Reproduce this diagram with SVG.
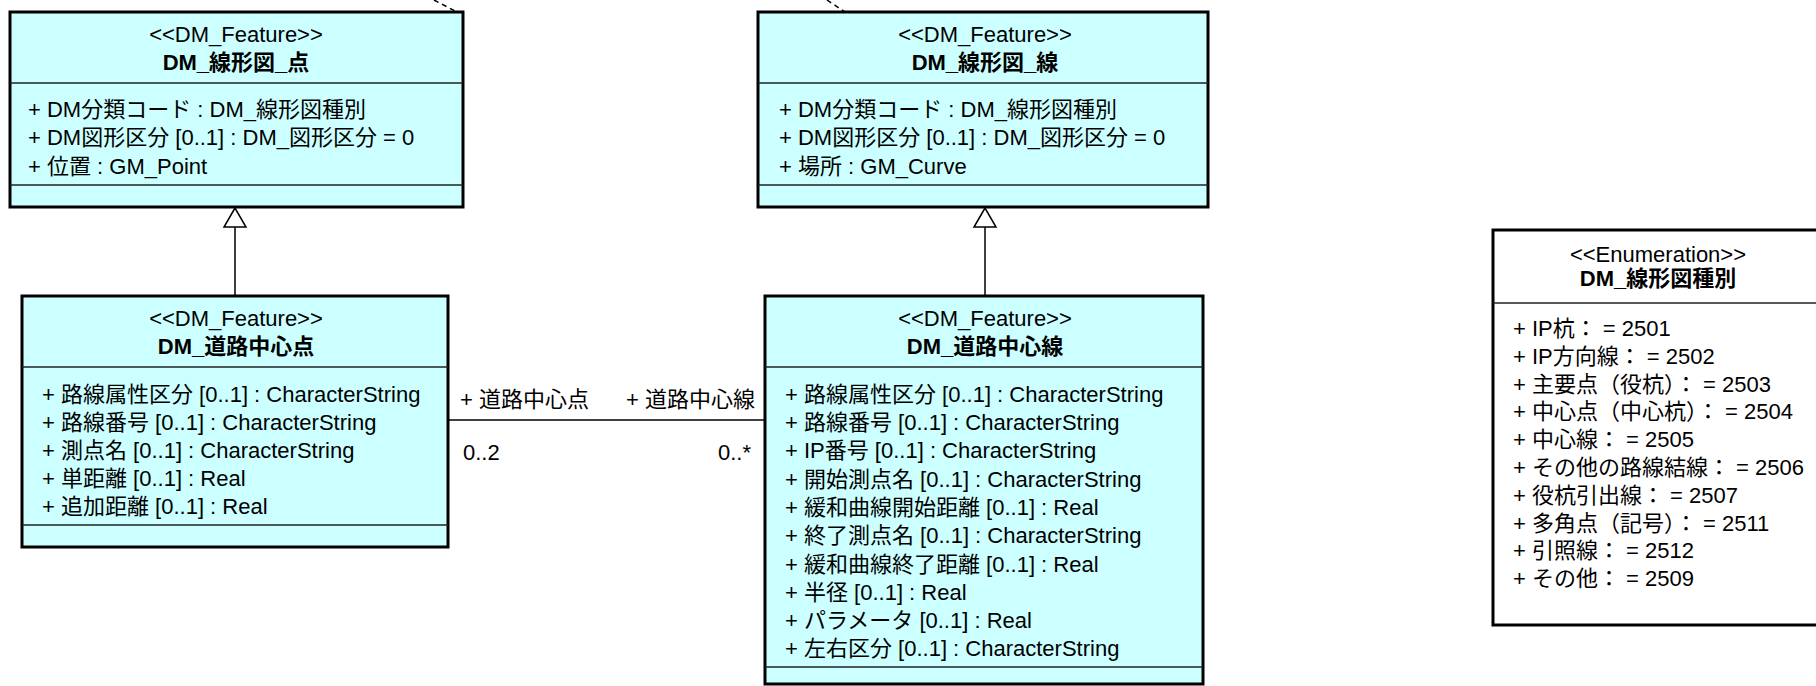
<svg xmlns="http://www.w3.org/2000/svg" width="1816" height="686" viewBox="0 0 1816 686">
<style>
.box{fill:#CCFFFF;stroke:#000;stroke-width:3}
.ebox{fill:#FFFFFF;stroke:#000;stroke-width:3}
.dv{stroke:#222;stroke-width:1.5}
text{font-family:"Liberation Sans","Noto Sans CJK JP",sans-serif;font-size:22px;fill:#000}
.c{text-anchor:middle}
.b{font-weight:bold}
.ln{stroke:#000;stroke-width:1.5;fill:none}
.dash{stroke:#000;stroke-width:1.5;stroke-dasharray:5,4;fill:none}
.tri{fill:#fff;stroke:#000;stroke-width:1.5}
</style>
<rect width="1816" height="686" fill="#fff"/>
<g id="connectors">
<line class="dash" x1="434" y1="0" x2="457" y2="12"/>
<line class="dash" x1="827" y1="0" x2="845" y2="12"/>
<line class="ln" x1="235" y1="227" x2="235" y2="296"/>
<polygon class="tri" points="235,208 224,227 246,227"/>
<line class="ln" x1="985" y1="227" x2="985" y2="296"/>
<polygon class="tri" points="985,208 974,227 996,227"/>
<line class="ln" x1="448" y1="420" x2="765" y2="420"/>
<text x="460" y="407">+  道路中心点</text>
<text x="626" y="407">+  道路中心線</text>
<text x="463" y="460">0..2</text>
<text x="718" y="460">0..*</text>
</g>
<g id="DM_線形図_点">
<rect class="box" x="10" y="12" width="453" height="195"/>
<line class="dv" x1="10" y1="83" x2="463" y2="83"/>
<line class="dv" x1="10" y1="185" x2="463" y2="185"/>
<text class="c" x="236" y="42">&lt;&lt;DM_Feature&gt;&gt;</text>
<text class="c b" x="236" y="70">DM_線形図_点</text>
<text x="28" y="117">+ DM分類コード : DM_線形図種別</text>
<text x="28" y="145">+ DM図形区分 [0..1] : DM_図形区分 = 0</text>
<text x="28" y="174">+  位置 : GM_Point</text>
</g>
<g id="DM_線形図_線">
<rect class="box" x="758" y="12" width="450" height="195"/>
<line class="dv" x1="758" y1="83" x2="1208" y2="83"/>
<line class="dv" x1="758" y1="185" x2="1208" y2="185"/>
<text class="c" x="985" y="42">&lt;&lt;DM_Feature&gt;&gt;</text>
<text class="c b" x="985" y="70">DM_線形図_線</text>
<text x="779" y="117">+ DM分類コード : DM_線形図種別</text>
<text x="779" y="145">+ DM図形区分 [0..1] : DM_図形区分 = 0</text>
<text x="779" y="174">+  場所 : GM_Curve</text>
</g>
<g id="DM_道路中心点">
<rect class="box" x="22" y="296" width="426" height="251"/>
<line class="dv" x1="22" y1="367" x2="448" y2="367"/>
<line class="dv" x1="22" y1="525" x2="448" y2="525"/>
<text class="c" x="236" y="326">&lt;&lt;DM_Feature&gt;&gt;</text>
<text class="c b" x="236" y="354">DM_道路中心点</text>
<text x="42" y="402">+  路線属性区分 [0..1] : CharacterString</text>
<text x="42" y="430">+  路線番号 [0..1] : CharacterString</text>
<text x="42" y="458">+  測点名 [0..1] : CharacterString</text>
<text x="42" y="486">+  単距離 [0..1] : Real</text>
<text x="42" y="514">+  追加距離 [0..1] : Real</text>
</g>
<g id="DM_道路中心線">
<rect class="box" x="765" y="296" width="438" height="388"/>
<line class="dv" x1="765" y1="367" x2="1203" y2="367"/>
<line class="dv" x1="765" y1="667" x2="1203" y2="667"/>
<text class="c" x="985" y="326">&lt;&lt;DM_Feature&gt;&gt;</text>
<text class="c b" x="985" y="354">DM_道路中心線</text>
<text x="785" y="402">+  路線属性区分 [0..1] : CharacterString</text>
<text x="785" y="430">+  路線番号 [0..1] : CharacterString</text>
<text x="785" y="458">+ IP番号 [0..1] : CharacterString</text>
<text x="785" y="487">+  開始測点名 [0..1] : CharacterString</text>
<text x="785" y="515">+  緩和曲線開始距離 [0..1] : Real</text>
<text x="785" y="543">+  終了測点名 [0..1] : CharacterString</text>
<text x="785" y="572">+  緩和曲線終了距離 [0..1] : Real</text>
<text x="785" y="600">+  半径 [0..1] : Real</text>
<text x="785" y="628">+  パラメータ [0..1] : Real</text>
<text x="785" y="656">+  左右区分 [0..1] : CharacterString</text>
</g>
<g id="DM_線形図種別">
<rect class="ebox" x="1493" y="230" width="340" height="395"/>
<line class="dv" x1="1493" y1="303" x2="1833" y2="303"/>
<text class="c" x="1658" y="262">&lt;&lt;Enumeration&gt;&gt;</text>
<text class="c b" x="1658" y="286">DM_線形図種別</text>
<text x="1513" y="336">+ IP杭： = 2501</text>
<text x="1513" y="364">+ IP方向線： = 2502</text>
<text x="1513" y="392">+  主要点（役杭）： = 2503</text>
<text x="1513" y="419">+  中心点（中心杭）： = 2504</text>
<text x="1513" y="447">+  中心線： = 2505</text>
<text x="1513" y="475">+  その他の路線結線： = 2506</text>
<text x="1513" y="503">+  役杭引出線： = 2507</text>
<text x="1513" y="531">+  多角点（記号）： = 2511</text>
<text x="1513" y="558">+  引照線： = 2512</text>
<text x="1513" y="586">+  その他： = 2509</text>
</g>
</svg>
